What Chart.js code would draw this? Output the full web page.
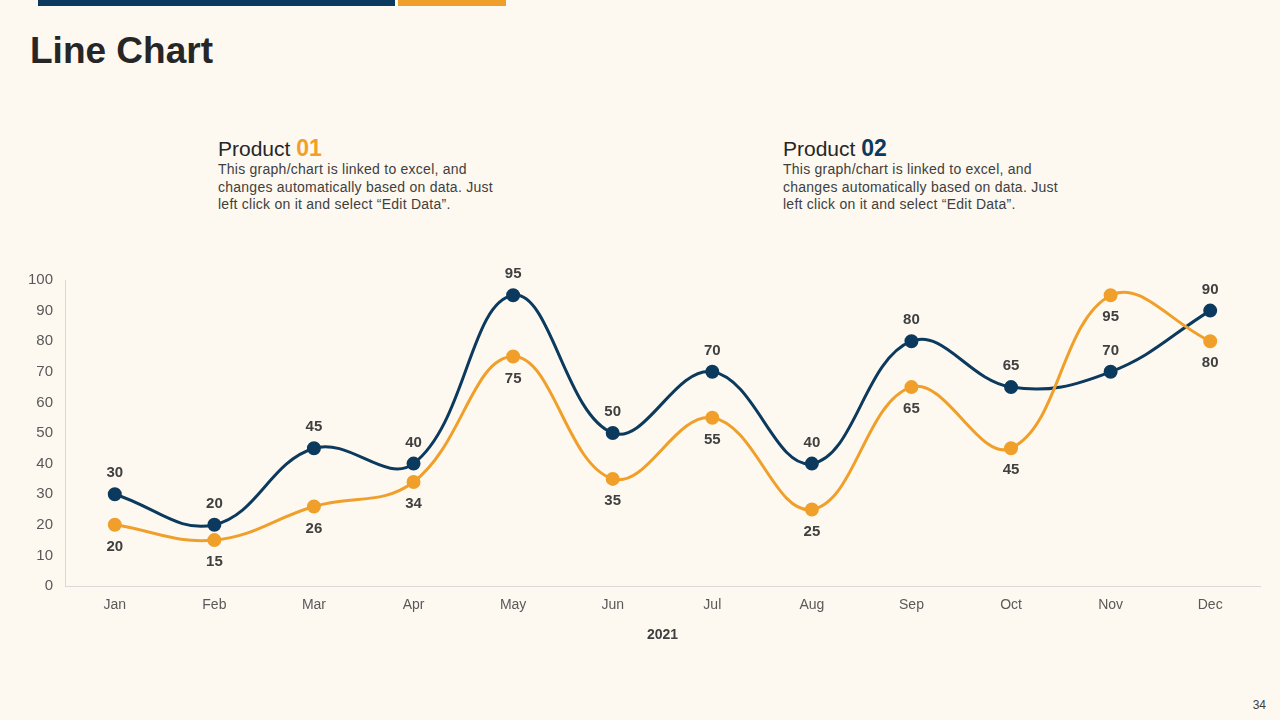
<!DOCTYPE html>
<html>
<head>
<meta charset="utf-8">
<script src="https://cdn.jsdelivr.net/npm/chart.js@4"></script>
<style>
  html, body { margin: 0; padding: 0; }
  body { width: 1280px; height: 720px; background: #fdf9f1; position: relative; overflow: hidden; font-family: "Liberation Sans", Arial, sans-serif; }
  .bar { position: absolute; top: 0; height: 6px; }
  h1 { position: absolute; left: 30px; top: 30px; margin: 0; font-size: 37px; font-weight: bold; color: #262626; }
  .prod { position: absolute; top: 136px; width: 290px; color: #404040; }
  .prod .hd { font-size: 21px; line-height: 24px; color: #262626; }
  .prod .hd b { font-size: 23px; }
  .prod p { margin: 0; font-size: 14px; line-height: 17.5px; letter-spacing: 0.25px; }
  #chartBox { position: absolute; left: 0; top: 255px; width: 1280px; height: 400px; }
  .pg { position: absolute; right: 14px; top: 698px; font-size: 12px; color: #404040; }
</style>
</head>
<body>
<div class="bar" style="left:38px;width:357px;background:#0b3a5e"></div>
<div class="bar" style="left:398px;width:108px;background:#f0a02a"></div>
<h1>Line Chart</h1>
<div class="prod" style="left:218px">
  <div class="hd">Product <b style="color:#f0a02a">01</b></div>
  <p>This graph/chart is linked to excel, and changes automatically based on data. Just left click on it and select “Edit Data”.</p>
</div>
<div class="prod" style="left:783px">
  <div class="hd">Product <b style="color:#0b3a5e">02</b></div>
  <p>This graph/chart is linked to excel, and changes automatically based on data. Just left click on it and select “Edit Data”.</p>
</div>
<div id="chartBox"><canvas id="chart" width="1280" height="400"></canvas></div>
<div class="pg">34</div>
<script>
// données
const months = ['Jan', 'Feb', 'Mar', 'Apr', 'May', 'Jun', 'Jul', 'Aug', 'Sep', 'Oct', 'Nov', 'Dec'];
const product01 = [20, 15, 26, 34, 75, 35, 55, 25, 65, 45, 95, 80];
const product02 = [30, 20, 45, 40, 95, 50, 70, 40, 80, 65, 70, 90];
const yearLabel = '2021';

const navy = '#0b3a5e';
const orange = '#f0a02a';

// étiquettes de valeur : navy au-dessus, orange en dessous
const valueLabels = {
  id: 'valueLabels',
  afterDatasetsDraw(chart) {
    const ctx = chart.ctx;
    ctx.save();
    ctx.font = 'bold 15px "Liberation Sans", Arial, sans-serif';
    ctx.fillStyle = '#404040';
    ctx.textAlign = 'center';
    ctx.textBaseline = 'middle';
    chart.data.datasets.forEach((ds, i) => {
      const meta = chart.getDatasetMeta(i);
      meta.data.forEach((pt, j) => {
        const dy = ds.labelPos === 'top' ? -21 : 22;
        ctx.fillText(ds.data[j], pt.x, pt.y + dy);
      });
    });
    ctx.restore();
  }
};

new Chart(document.getElementById('chart'), {
  type: 'line',
  data: {
    labels: months,
    datasets: [
      {
        label: 'Product 01',
        data: product01,
        borderColor: orange,
        backgroundColor: orange,
        borderWidth: 3,
        pointRadius: 5.5,
        pointHoverRadius: 5.5,
        tension: 0.4,
        labelPos: 'bottom'
      },
      {
        label: 'Product 02',
        data: product02,
        borderColor: navy,
        backgroundColor: navy,
        borderWidth: 3,
        pointRadius: 5.5,
        pointHoverRadius: 5.5,
        tension: 0.4,
        labelPos: 'top'
      }
    ]
  },
  options: {
    responsive: false,
    animation: false,
    maintainAspectRatio: false,
    layout: { padding: { top: 25, right: 20, left: 0, bottom: 0 } },
    plugins: {
      legend: { display: false },
      tooltip: { enabled: false }
    },
    scales: {
      x: {
        offset: true,
        grid: { display: false, drawTicks: false },
        border: { color: '#d9d9d9', width: 1 },
        ticks: { color: '#595959', padding: 11, font: { size: 14, family: '"Liberation Sans", Arial, sans-serif' } },
        title: { display: true, text: yearLabel, color: '#404040', padding: { top: 5, bottom: 11 }, font: { size: 14, weight: 'bold', family: '"Liberation Sans", Arial, sans-serif' } },
        afterFit(scale) { scale.height = 69; }
      },
      y: {
        min: 0,
        max: 100,
        ticks: { stepSize: 10, color: '#595959', padding: 12, font: { size: 15, family: '"Liberation Sans", Arial, sans-serif' } },
        grid: { display: false, drawTicks: false },
        border: { color: '#d9d9d9', width: 1 },
        afterFit(scale) { scale.width = 65; }
      }
    }
  },
  plugins: [valueLabels]
});
</script>
</body>
</html>
